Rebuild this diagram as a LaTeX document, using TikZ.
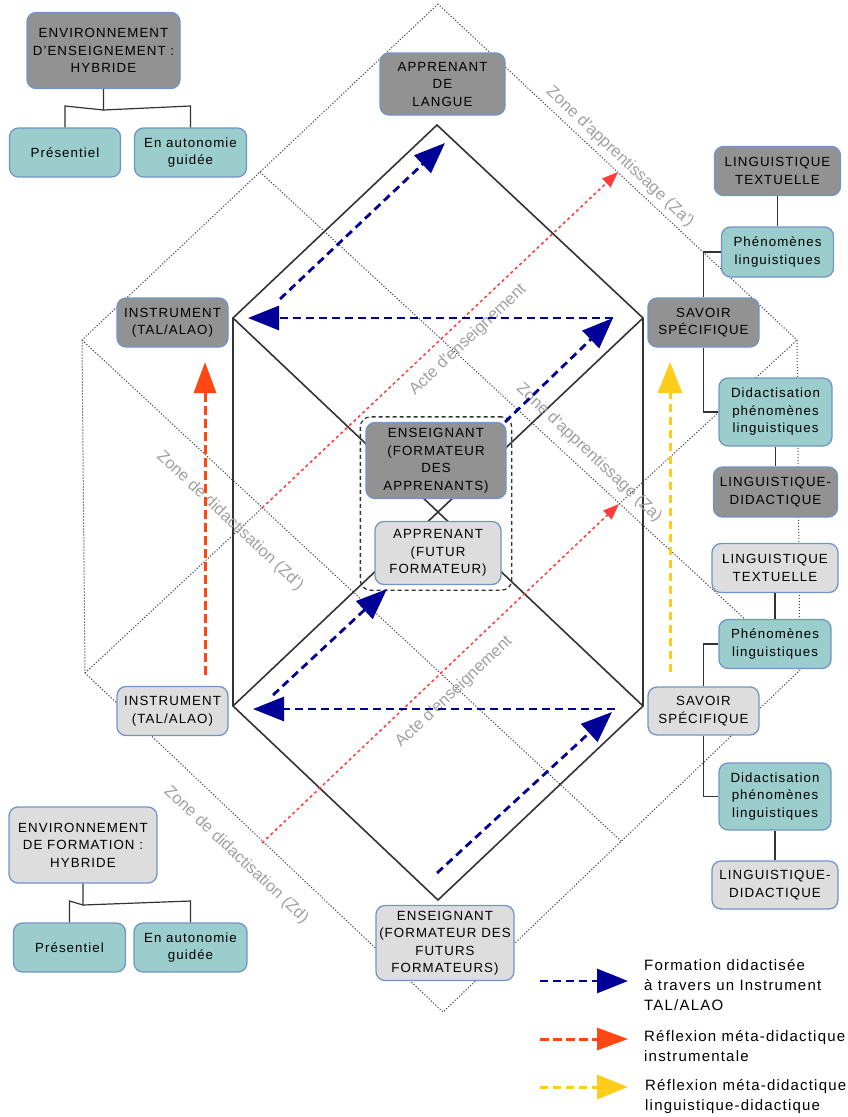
\documentclass[tikz,border=0pt]{standalone}
\usepackage{fontspec}
\setmainfont{Liberation Sans}[LetterSpace=8]
\newfontfamily\zonefam{Liberation Sans}
\usepackage{xcolor}
\usetikzlibrary{arrows.meta,fit}
\definecolor{ZDark}{HTML}{929292}
\definecolor{ZLight}{HTML}{DDDDDD}
\definecolor{ZTeal}{HTML}{9BCDCD}
\definecolor{ZEdge}{HTML}{7195C6}
\definecolor{ZNavy}{HTML}{000099}
\definecolor{ZOrange}{HTML}{FF4613}
\definecolor{ZYellow}{HTML}{FFCC1A}
\definecolor{ZRed}{HTML}{FF3B3B}
\definecolor{ZGrid}{HTML}{444444}
\definecolor{ZLabel}{HTML}{A0A0A0}
\definecolor{ZLine}{HTML}{333333}
\newcommand{\boxfont}{\fontsize{13.3}{17.5}\selectfont}
\newcommand{\zonefont}{\zonefam\fontsize{16.5}{19}\selectfont}
\newcommand{\legfont}{\fontsize{15}{20}\selectfont}

\begin{document}
\begin{tikzpicture}[
  x=1pt, y=1pt,
  zbox/.style={rounded corners=9pt, draw=ZEdge, line width=1.3pt, align=center, font=\boxfont, inner sep=1pt},
  darkbox/.style={zbox, fill=ZDark},
  lightbox/.style={zbox, fill=ZLight},
  tealbox/.style={zbox, fill=ZTeal},
  lattice/.style={draw=ZGrid, line width=1pt, dash pattern=on 1.2pt off 1.8pt},
  hexline/.style={draw=ZLine, line width=1.6pt},
  tree/.style={draw=ZLine, line width=1.2pt},
  zone/.style={font=\zonefont, text=ZLabel, inner sep=0pt},
  legend/.style={font=\legfont, align=left, inner sep=0pt, anchor=west},
  formarrow/.style={draw=ZNavy, line width=2.8pt, dash pattern=on 8pt off 5pt, -{Triangle[length=31pt,width=24pt]}},
  instrarrow/.style={draw=ZOrange, line width=3pt, dash pattern=on 9pt off 4pt, -{Triangle[length=31pt,width=22pt]}},
  lingarrow/.style={draw=ZYellow, line width=3pt, dash pattern=on 8pt off 5pt, -{Triangle[length=31pt,width=24pt]}},
  actarrow/.style={draw=ZRed, line width=1.5pt, dash pattern=on 3pt off 3pt, -{Triangle[length=16pt,width=12pt]}}
]
\useasboundingbox (0,0) rectangle (847,-1117);

\coordinate (gT) at (438,-4);
\coordinate (gUL) at (82,-340);
\coordinate (gUR) at (797,-340);
\coordinate (gLL) at (85,-673);
\coordinate (gLR) at (800,-670);
\coordinate (gB) at (443,-1012);
\coordinate (gTL) at (260,-172);
\coordinate (gTR) at (618,-172);
\coordinate (gBL) at (262,-843);
\coordinate (gBR) at (621,-841);
\coordinate (gM1) at (262,-508);
\coordinate (gM2) at (619,-504);

\draw[lattice] (gT) -- (gUL) -- (gLL) -- (gB) -- (gLR) -- (gUR) -- cycle;
\draw[lattice] (gTL) -- (gLR);
\draw[lattice] (gUL) -- (gBR);
\draw[lattice] (gLL) -- (gM1);
\draw[lattice] (gM2) -- (gUR);

\coordinate (hT) at (437,-125);
\coordinate (hUL) at (233,-318);
\coordinate (hUR) at (643,-318);
\coordinate (hLL) at (233,-706);
\coordinate (hLR) at (643,-706);
\coordinate (hB) at (438,-900);
\draw[hexline] (hT) -- (hUL) -- (hLL) -- (hB) -- (hLR) -- (hUR) -- cycle;
\draw[hexline] (hUL) -- (hLR) (hUR) -- (hLL);

\draw[actarrow] (gM1) -- (gTR);
\draw[actarrow] (gBL) -- (gM2);

\node[zone, rotate=-43.3] (zoneAppHaut) at (620,-157) {Zone d'apprentissage (Za')};
\node[zone, rotate=-43.3] (zoneAppBas) at (589,-453) {Zone d'apprentissage (Za)};
\node[zone, rotate=-43.3] (zoneDidHaut) at (230,-521) {Zone de didactisation (Zd')};
\node[zone, rotate=-43.3] (zoneDidBas) at (236,-855) {Zone de didactisation (Zd)};
\node[zone, rotate=43.3] (acteHaut) at (468,-340) {Acte d'enseignement};
\node[zone, rotate=43.3] (acteBas) at (454,-692) {Acte d'enseignement};

\node[darkbox, minimum width=153pt, minimum height=76pt] (envEns) at (103.5,-50.5) {ENVIRONNEMENT\\D'ENSEIGNEMENT :\\HYBRIDE};
\node[tealbox, minimum width=111pt, minimum height=49pt] (presEns) at (65,-152.5) {Présentiel};
\node[tealbox, minimum width=112pt, minimum height=49pt] (autoEns) at (190.5,-152.5) {En autonomie\\guidée};
\node[darkbox, minimum width=125pt, minimum height=62pt] (apLangue) at (442.5,-84) {APPRENANT\\DE\\LANGUE};
\node[darkbox, minimum width=111pt, minimum height=49pt] (instrHaut) at (172.5,-322.5) {INSTRUMENT\\(TAL/ALAO)};
\node[darkbox, minimum width=111pt, minimum height=49pt] (savoirHaut) at (703.5,-322.5) {SAVOIR\\SPÉCIFIQUE};
\node[darkbox, minimum width=126pt, minimum height=49pt] (textHaut) at (777.5,-171) {LINGUISTIQUE\\TEXTUELLE};
\node[tealbox, minimum width=112pt, minimum height=50pt] (phenHaut) at (777.5,-252) {Phénomènes\\linguistiques};
\node[tealbox, minimum width=113pt, minimum height=68pt] (didHaut) at (775.5,-412) {Didactisation\\phénomènes\\linguistiques};
\node[darkbox, minimum width=124pt, minimum height=50pt] (ldHaut) at (775.5,-492) {LINGUISTIQUE-\\DIDACTIQUE};
\node[darkbox, minimum width=140pt, minimum height=76pt] (ensApp) at (436,-460.5) {ENSEIGNANT\\(FORMATEUR\\DES\\APPRENANTS)};
\node[lightbox, minimum width=126pt, minimum height=63pt] (apFutur) at (438,-553) {APPRENANT\\(FUTUR\\FORMATEUR)};
\node[lightbox, minimum width=111pt, minimum height=49pt] (instrBas) at (172.5,-711) {INSTRUMENT\\(TAL/ALAO)};
\node[lightbox, minimum width=111pt, minimum height=48pt] (savoirBas) at (703.5,-711) {SAVOIR\\SPÉCIFIQUE};
\node[lightbox, minimum width=126pt, minimum height=49pt] (textBas) at (775,-568) {LINGUISTIQUE\\TEXTUELLE};
\node[tealbox, minimum width=112pt, minimum height=49pt] (phenBas) at (775,-644) {Phénomènes\\linguistiques};
\node[tealbox, minimum width=112pt, minimum height=67pt] (didBas) at (775,-796.5) {Didactisation\\phénomènes\\linguistiques};
\node[lightbox, minimum width=126pt, minimum height=48pt] (ldBas) at (775,-885) {LINGUISTIQUE-\\DIDACTIQUE};
\node[lightbox, minimum width=138pt, minimum height=75pt] (ensFut) at (445,-943) {ENSEIGNANT\\(FORMATEUR DES\\FUTURS\\FORMATEURS)};
\node[lightbox, minimum width=148pt, minimum height=76pt] (envForm) at (83,-845) {ENVIRONNEMENT\\DE FORMATION :\\HYBRIDE};
\node[tealbox, minimum width=112pt, minimum height=49pt] (presForm) at (69.5,-947.5) {Présentiel};
\node[tealbox, minimum width=113pt, minimum height=49pt] (autoForm) at (190.5,-947.5) {En autonomie\\guidée};

\node[draw=ZLine, line width=1.3pt, dash pattern=on 4pt off 3pt, rounded corners=10pt, inner sep=5pt, fit=(ensApp)(apFutur)] (duo) {};

\coordinate (envEnsJ) at (103.5,-110);
\coordinate (envEnsL) at (65,-106);
\coordinate (envEnsR) at (190.5,-106);
\draw[tree] (envEns.south) -- (envEnsJ) -- (envEnsL) -- (presEns.north);
\draw[tree] (envEnsJ) -- (envEnsR) -- (autoEns.north);
\coordinate (envFormJ) at (83,-905);
\coordinate (envFormL) at (69.5,-901);
\coordinate (envFormR) at (190.5,-901);
\draw[tree] (envForm.south) -- (envFormJ) -- (envFormL) -- (presForm.north);
\draw[tree] (envFormJ) -- (envFormR) -- (autoForm.north);

\draw[tree] (textHaut) -- (phenHaut);
\draw[tree] (savoirHaut.north) |- (phenHaut.west);
\draw[tree] (savoirHaut.south) |- (didHaut.west);
\draw[tree] (didHaut) -- (ldHaut);
\draw[tree] (textBas) -- (phenBas);
\draw[tree] (savoirBas.north) |- (phenBas.west);
\draw[tree] (savoirBas.south) |- (didBas.west);
\draw[tree] (didBas) -- (ldBas);

\coordinate (fA1) at (613,-318);
\coordinate (fA2) at (248,-318);
\coordinate (fB1) at (280,-299);
\coordinate (fB2) at (445,-143);
\coordinate (fC1) at (505,-422);
\coordinate (fD1) at (615,-709);
\coordinate (fD2) at (253,-709);
\coordinate (fE1) at (273,-695);
\coordinate (fE2) at (387,-589);
\coordinate (fF1) at (437,-873);
\coordinate (fF2) at (612,-712);
\draw[formarrow] (fA1) -- (fA2);
\draw[formarrow] (fB1) -- (fB2);
\draw[formarrow] (fC1) -- (fA1);
\draw[formarrow] (fD1) -- (fD2);
\draw[formarrow] (fE1) -- (fE2);
\draw[formarrow] (fF1) -- (fF2);

\coordinate (iA) at (205,-675);
\coordinate (iB) at (205,-362);
\draw[instrarrow] (iA) -- (iB);
\coordinate (lA) at (670,-672);
\coordinate (lB) at (670,-362);
\draw[lingarrow] (lA) -- (lB);

\coordinate (kF1) at (540,-981);
\coordinate (kF2) at (628,-981);
\coordinate (kI1) at (540,-1039);
\coordinate (kI2) at (628,-1039);
\coordinate (kL1) at (540,-1087);
\coordinate (kL2) at (628,-1087);
\draw[formarrow] (kF1) -- (kF2);
\draw[instrarrow] (kI1) -- (kI2);
\draw[lingarrow] (kL1) -- (kL2);
\node[legend] (legForm) at (644,-985) {Formation didactisée\\à travers un Instrument\\TAL/ALAO};
\node[legend] (legInstr) at (644,-1046) {Réflexion méta-didactique\\instrumentale};
\node[legend] (legLing) at (645,-1096.5) {Réflexion méta-didactique\\linguistique-didactique};
\end{tikzpicture}
\end{document}
